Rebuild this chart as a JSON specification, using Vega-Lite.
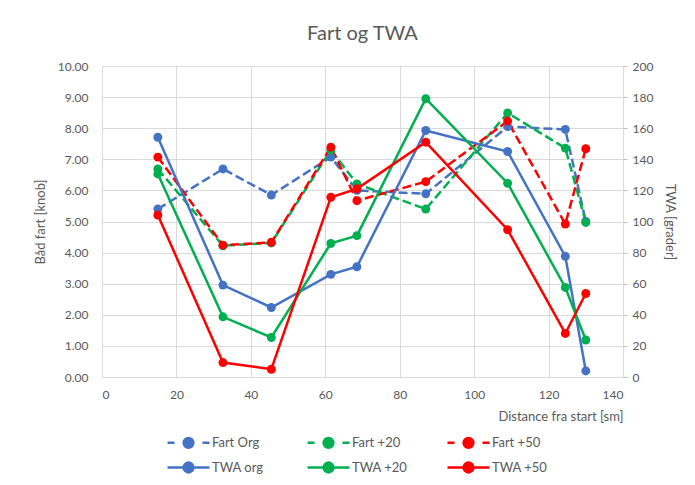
{
  "$schema": "https://vega.github.io/schema/vega-lite/v6.json",
  "width": 521,
  "height": 311,
  "padding": {"left": 34, "top": 24, "right": 18, "bottom": 8},
  "background": "white",
  "title": {"text": "Fart og TWA", "fontSize": 20, "font": "Lato", "fontWeight": "normal", "color": "#595959", "offset": 16},
  "config": {
    "font": "Lato",
    "view": {"stroke": null},
    "axis": {"gridColor": "#D9D9D9", "gridWidth": 1, "domain": false, "ticks": false, "labelColor": "#595959", "labelFontSize": 12, "labelFont": "Lato", "titleColor": "#595959", "titleFontSize": 13, "titleFont": "Lato", "titleFontWeight": "normal", "labelPadding": 8}
  },
  "data": {"values": [
    {"Serie": "Fart Org", "Distance": 15, "Verdi": 5.40},
    {"Serie": "Fart Org", "Distance": 32.5, "Verdi": 6.69},
    {"Serie": "Fart Org", "Distance": 45.5, "Verdi": 5.85},
    {"Serie": "Fart Org", "Distance": 61.5, "Verdi": 7.07},
    {"Serie": "Fart Org", "Distance": 68.5, "Verdi": 6.00},
    {"Serie": "Fart Org", "Distance": 87, "Verdi": 5.89},
    {"Serie": "Fart Org", "Distance": 109, "Verdi": 8.05},
    {"Serie": "Fart Org", "Distance": 124.5, "Verdi": 7.96},
    {"Serie": "Fart Org", "Distance": 130, "Verdi": 5.00},
    {"Serie": "Fart +20", "Distance": 15, "Verdi": 6.69},
    {"Serie": "Fart +20", "Distance": 32.5, "Verdi": 4.22},
    {"Serie": "Fart +20", "Distance": 45.5, "Verdi": 4.31},
    {"Serie": "Fart +20", "Distance": 61.5, "Verdi": 7.30},
    {"Serie": "Fart +20", "Distance": 68.5, "Verdi": 6.21},
    {"Serie": "Fart +20", "Distance": 87, "Verdi": 5.40},
    {"Serie": "Fart +20", "Distance": 109, "Verdi": 8.49},
    {"Serie": "Fart +20", "Distance": 124.5, "Verdi": 7.36},
    {"Serie": "Fart +20", "Distance": 130, "Verdi": 4.97},
    {"Serie": "Fart +50", "Distance": 15, "Verdi": 7.07},
    {"Serie": "Fart +50", "Distance": 32.5, "Verdi": 4.24},
    {"Serie": "Fart +50", "Distance": 45.5, "Verdi": 4.33},
    {"Serie": "Fart +50", "Distance": 61.5, "Verdi": 7.39},
    {"Serie": "Fart +50", "Distance": 68.5, "Verdi": 5.67},
    {"Serie": "Fart +50", "Distance": 87, "Verdi": 6.28},
    {"Serie": "Fart +50", "Distance": 109, "Verdi": 8.23},
    {"Serie": "Fart +50", "Distance": 124.5, "Verdi": 4.92},
    {"Serie": "Fart +50", "Distance": 130, "Verdi": 7.34},
    {"Serie": "TWA org", "Distance": 15, "Verdi": 154.2},
    {"Serie": "TWA org", "Distance": 32.5, "Verdi": 59.1},
    {"Serie": "TWA org", "Distance": 45.5, "Verdi": 44.7},
    {"Serie": "TWA org", "Distance": 61.5, "Verdi": 66.0},
    {"Serie": "TWA org", "Distance": 68.5, "Verdi": 70.9},
    {"Serie": "TWA org", "Distance": 87, "Verdi": 158.5},
    {"Serie": "TWA org", "Distance": 109, "Verdi": 145.0},
    {"Serie": "TWA org", "Distance": 124.5, "Verdi": 77.6},
    {"Serie": "TWA org", "Distance": 130, "Verdi": 3.9},
    {"Serie": "TWA +20", "Distance": 15, "Verdi": 130.6},
    {"Serie": "TWA +20", "Distance": 32.5, "Verdi": 38.7},
    {"Serie": "TWA +20", "Distance": 45.5, "Verdi": 25.4},
    {"Serie": "TWA +20", "Distance": 61.5, "Verdi": 85.9},
    {"Serie": "TWA +20", "Distance": 68.5, "Verdi": 90.9},
    {"Serie": "TWA +20", "Distance": 87, "Verdi": 179.0},
    {"Serie": "TWA +20", "Distance": 109, "Verdi": 124.6},
    {"Serie": "TWA +20", "Distance": 124.5, "Verdi": 57.6},
    {"Serie": "TWA +20", "Distance": 130, "Verdi": 23.8},
    {"Serie": "TWA +50", "Distance": 15, "Verdi": 104.2},
    {"Serie": "TWA +50", "Distance": 32.5, "Verdi": 9.3},
    {"Serie": "TWA +50", "Distance": 45.5, "Verdi": 5.0},
    {"Serie": "TWA +50", "Distance": 61.5, "Verdi": 115.6},
    {"Serie": "TWA +50", "Distance": 68.5, "Verdi": 121.0},
    {"Serie": "TWA +50", "Distance": 87, "Verdi": 151.0},
    {"Serie": "TWA +50", "Distance": 109, "Verdi": 94.7},
    {"Serie": "TWA +50", "Distance": 124.5, "Verdi": 28.0},
    {"Serie": "TWA +50", "Distance": 130, "Verdi": 53.7}
  ]},
  "encoding": {
    "x": {"field": "Distance", "type": "quantitative", "scale": {"domain": [0, 140], "nice": false},
      "axis": {"values": [0, 20, 40, 60, 80, 100, 120, 140], "title": "Distance fra start [sm]", "titleAnchor": "end", "labelPadding": 12, "titlePadding": 10, "domain": true, "domainColor": "#D9D9D9"}},
    "color": {"field": "Serie", "type": "nominal",
      "scale": {"domain": ["Fart Org", "Fart +20", "Fart +50", "TWA org", "TWA +20", "TWA +50"], "range": ["#4472C4", "#00B050", "#FF0000", "#4472C4", "#00B050", "#FF0000"]},
      "legend": {"title": null, "orient": "none", "legendX": 64, "legendY": 368, "padding": 0, "direction": "horizontal", "columns": 3, "gridAlign": "all", "columnPadding": 34, "rowPadding": 4,
        "symbolType": "M-3,0H3M0.7,0A0.7,0.7,0,1,1,-0.7,0A0.7,0.7,0,1,1,0.7,0Z", "symbolSize": 196, "symbolStrokeWidth": 2.5, "symbolOffset": 14, "labelOffset": 15,
        "labelFontSize": 13, "labelColor": "#595959", "labelFont": "Lato",
        "encode": {"symbols": {"update": {
          "fill": {"scale": "color", "field": "value"},
          "shape": {"signal": "indexof(datum.value, 'Fart') === 0 ? 'M-3,0H-2M2,0H3M0.7,0A0.7,0.7,0,1,1,-0.7,0A0.7,0.7,0,1,1,0.7,0Z' : 'M-3,0H3M0.7,0A0.7,0.7,0,1,1,-0.7,0A0.7,0.7,0,1,1,0.7,0Z'"}}}}}}
  },
  "layer": [
    {
      "transform": [{"filter": {"field": "Serie", "oneOf": ["Fart Org", "Fart +20", "Fart +50"]}}],
      "mark": {"type": "line", "strokeWidth": 2.5, "strokeDash": [9, 4], "point": {"filled": true, "size": 80}},
      "encoding": {
        "y": {"field": "Verdi", "type": "quantitative", "scale": {"domain": [0, 10], "nice": false},
          "axis": {"title": "Båd fart [knob]", "format": ".2f", "values": [0, 1, 2, 3, 4, 5, 6, 7, 8, 9, 10], "labelPadding": 14, "titlePadding": 10}}
      }
    },
    {
      "transform": [{"filter": {"field": "Serie", "oneOf": ["TWA org", "TWA +20", "TWA +50"]}}],
      "mark": {"type": "line", "strokeWidth": 2.5, "point": {"filled": true, "size": 80}},
      "encoding": {
        "y": {"field": "Verdi", "type": "quantitative", "scale": {"domain": [0, 200], "nice": false},
          "axis": {"title": "TWA [grader]", "orient": "right", "grid": false, "values": [0, 20, 40, 60, 80, 100, 120, 140, 160, 180, 200], "ticks": true, "tickColor": "#BFBFBF", "tickSize": 4, "domain": true, "domainColor": "#D9D9D9", "labelPadding": 5, "titlePadding": 10}}
      }
    }
  ],
  "resolve": {"scale": {"y": "independent"}}
}
